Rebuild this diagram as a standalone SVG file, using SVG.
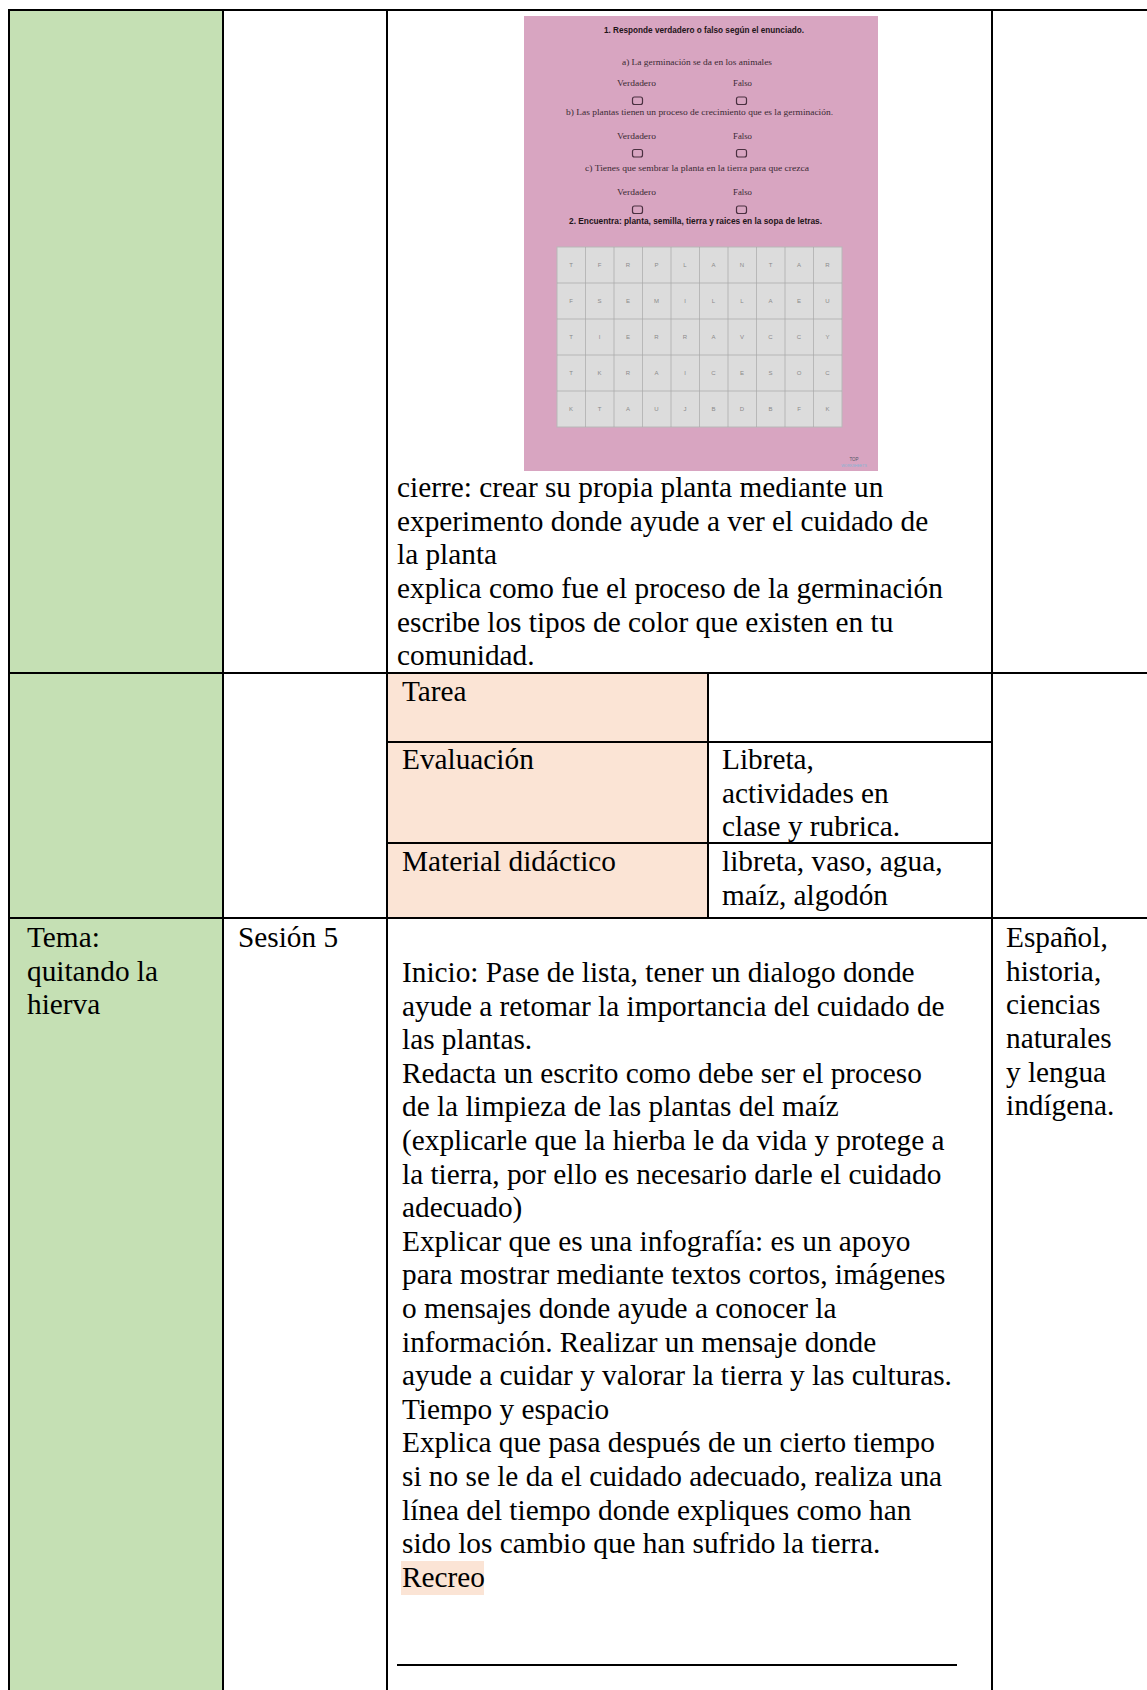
<svg xmlns="http://www.w3.org/2000/svg" width="1147" height="1690" viewBox="0 0 1147 1690">
<style>
.t{font-family:"Liberation Serif","Times New Roman",serif;font-size:29.3px;fill:#000}
.ln{stroke:#000;stroke-width:2;fill:none}
.ws{font-family:"Liberation Serif",serif;font-size:8.5px;fill:#3a2a33}
.wb{font-family:"Liberation Sans","Noto Sans",sans-serif;font-size:8.5px;font-weight:bold;fill:#1e1418}
.cb{fill:none;stroke:#4a3040;stroke-width:1.2}
.gl{font-family:"Liberation Sans",sans-serif;font-size:6px;fill:#8a8a8a;text-anchor:middle}
</style>
<rect x="0" y="0" width="1147" height="1690" fill="#fff"/>

<!-- fills -->
<g id="fills">
<rect x="9" y="10" width="214" height="1680" fill="#C5E0B4"/>
<rect x="387" y="673" width="321" height="245" fill="#FBE4D5"/>
</g>

<!-- worksheet image -->
<g id="worksheet">
<rect x="524" y="16" width="354" height="455" fill="#D8A5C1"/>
<text class="wb" x="704" y="33" text-anchor="middle" textLength="200" lengthAdjust="spacingAndGlyphs">1. Responde verdadero o falso según el enunciado.</text>
<text class="ws" x="697" y="65" text-anchor="middle" textLength="150" lengthAdjust="spacingAndGlyphs">a) La germinación se da en los animales</text>
<text class="ws" x="636.5" y="86" text-anchor="middle" textLength="39" lengthAdjust="spacingAndGlyphs">Verdadero</text>
<text class="ws" x="742.5" y="86" text-anchor="middle" textLength="19" lengthAdjust="spacingAndGlyphs">Falso</text>
<rect class="cb" x="632.5" y="97" width="10" height="7.5" rx="2"/>
<rect class="cb" x="736.5" y="97" width="10" height="7.5" rx="2"/>
<text class="ws" x="699.5" y="115" text-anchor="middle" textLength="267" lengthAdjust="spacingAndGlyphs">b) Las plantas tienen un proceso de crecimiento que es la germinación.</text>
<text class="ws" x="636.5" y="138.5" text-anchor="middle" textLength="39" lengthAdjust="spacingAndGlyphs">Verdadero</text>
<text class="ws" x="742.5" y="138.5" text-anchor="middle" textLength="19" lengthAdjust="spacingAndGlyphs">Falso</text>
<rect class="cb" x="632.5" y="149.5" width="10" height="7.5" rx="2"/>
<rect class="cb" x="736.5" y="149.5" width="10" height="7.5" rx="2"/>
<text class="ws" x="697" y="171" text-anchor="middle" textLength="224" lengthAdjust="spacingAndGlyphs">c) Tienes que sembrar la planta en la tierra para que crezca</text>
<text class="ws" x="636.5" y="195" text-anchor="middle" textLength="39" lengthAdjust="spacingAndGlyphs">Verdadero</text>
<text class="ws" x="742.5" y="195" text-anchor="middle" textLength="19" lengthAdjust="spacingAndGlyphs">Falso</text>
<rect class="cb" x="632.5" y="206" width="10" height="7.5" rx="2"/>
<rect class="cb" x="736.5" y="206" width="10" height="7.5" rx="2"/>
<text class="wb" x="695.5" y="224" text-anchor="middle" textLength="253" lengthAdjust="spacingAndGlyphs">2. Encuentra: planta, semilla, tierra y raices en la sopa de letras.</text>
<rect x="557" y="247" width="285" height="180" fill="#DCDCDC" stroke="#B8B8B8" stroke-width="1"/>
<g stroke="#A8A8A8" stroke-width="0.7">
<line x1="585.5" y1="247" x2="585.5" y2="427"/><line x1="614" y1="247" x2="614" y2="427"/>
<line x1="642.5" y1="247" x2="642.5" y2="427"/><line x1="671" y1="247" x2="671" y2="427"/>
<line x1="699.5" y1="247" x2="699.5" y2="427"/><line x1="728" y1="247" x2="728" y2="427"/>
<line x1="756.5" y1="247" x2="756.5" y2="427"/><line x1="785" y1="247" x2="785" y2="427"/>
<line x1="813.5" y1="247" x2="813.5" y2="427"/>
<line x1="557" y1="283" x2="842" y2="283"/><line x1="557" y1="319" x2="842" y2="319"/>
<line x1="557" y1="355" x2="842" y2="355"/><line x1="557" y1="391" x2="842" y2="391"/>
</g>
<g class="gl">
<text x="571" y="267">T</text><text x="599.5" y="267">F</text><text x="628" y="267">R</text><text x="656.5" y="267">P</text><text x="685" y="267">L</text><text x="713.5" y="267">A</text><text x="742" y="267">N</text><text x="770.5" y="267">T</text><text x="799" y="267">A</text><text x="827.5" y="267">R</text>
<text x="571" y="303">F</text><text x="599.5" y="303">S</text><text x="628" y="303">E</text><text x="656.5" y="303">M</text><text x="685" y="303">I</text><text x="713.5" y="303">L</text><text x="742" y="303">L</text><text x="770.5" y="303">A</text><text x="799" y="303">E</text><text x="827.5" y="303">U</text>
<text x="571" y="339">T</text><text x="599.5" y="339">I</text><text x="628" y="339">E</text><text x="656.5" y="339">R</text><text x="685" y="339">R</text><text x="713.5" y="339">A</text><text x="742" y="339">V</text><text x="770.5" y="339">C</text><text x="799" y="339">C</text><text x="827.5" y="339">Y</text>
<text x="571" y="375">T</text><text x="599.5" y="375">K</text><text x="628" y="375">R</text><text x="656.5" y="375">A</text><text x="685" y="375">I</text><text x="713.5" y="375">C</text><text x="742" y="375">E</text><text x="770.5" y="375">S</text><text x="799" y="375">O</text><text x="827.5" y="375">C</text>
<text x="571" y="411">K</text><text x="599.5" y="411">T</text><text x="628" y="411">A</text><text x="656.5" y="411">U</text><text x="685" y="411">J</text><text x="713.5" y="411">B</text><text x="742" y="411">D</text><text x="770.5" y="411">B</text><text x="799" y="411">F</text><text x="827.5" y="411">K</text>
</g>
<text x="854" y="461" text-anchor="middle" font-family="Liberation Sans,sans-serif" font-size="4.5" fill="#556">TOP</text>
<text x="854" y="467" text-anchor="middle" font-family="Liberation Sans,sans-serif" font-size="3.6" fill="#7FB6D6">WORKSHEETS</text>
</g>

<!-- row 1 text -->
<g id="row1-content">
<text class="t" x="397" y="497">cierre: crear su propia planta mediante un</text>
<text class="t" x="397" y="531">experimento donde ayude a ver el cuidado de</text>
<text class="t" x="397" y="564">la planta</text>
<text class="t" x="397" y="598">explica como fue el proceso de la germinación</text>
<text class="t" x="397" y="632">escribe los tipos de color que existen en tu</text>
<text class="t" x="397" y="665">comunidad.</text>
</g>

<!-- row 2 subtable -->
<g id="cell-tarea"><text class="t" x="402" y="701">Tarea</text></g>
<g id="cell-evaluacion"><text class="t" x="402" y="769">Evaluación</text></g>
<g id="cell-evaluacion-val">
<text class="t" x="722" y="769">Libreta,</text>
<text class="t" x="722" y="803">actividades en</text>
<text class="t" x="722" y="836">clase y rubrica.</text>
</g>
<g id="cell-material"><text class="t" x="402" y="871">Material didáctico</text></g>
<g id="cell-material-val">
<text class="t" x="722" y="871">libreta, vaso, agua,</text>
<text class="t" x="722" y="905">maíz, algodón</text>
</g>

<!-- row 3 -->
<g id="cell-tema">
<text class="t" x="27" y="947">Tema:</text>
<text class="t" x="27" y="981">quitando la</text>
<text class="t" x="27" y="1014">hierva</text>
</g>
<g id="cell-sesion"><text class="t" x="238" y="947">Sesión 5</text></g>
<g id="cell-actividades">
<text class="t" x="402" y="982">Inicio: Pase de lista, tener un dialogo donde</text>
<text class="t" x="402" y="1016">ayude a retomar la importancia del cuidado de</text>
<text class="t" x="402" y="1049">las plantas.</text>
<text class="t" x="402" y="1083">Redacta un escrito como debe ser el proceso</text>
<text class="t" x="402" y="1116">de la limpieza de las plantas del maíz</text>
<text class="t" x="402" y="1150">(explicarle que la hierba le da vida y protege a</text>
<text class="t" x="402" y="1184">la tierra, por ello es necesario darle el cuidado</text>
<text class="t" x="402" y="1217">adecuado)</text>
<text class="t" x="402" y="1251">Explicar que es una infografía: es un apoyo</text>
<text class="t" x="402" y="1284">para mostrar mediante textos cortos, imágenes</text>
<text class="t" x="402" y="1318">o mensajes donde ayude a conocer la</text>
<text class="t" x="402" y="1352">información. Realizar un mensaje donde</text>
<text class="t" x="402" y="1385">ayude a cuidar y valorar la tierra y las culturas.</text>
<text class="t" x="402" y="1419">Tiempo y espacio</text>
<text class="t" x="402" y="1452">Explica que pasa después de un cierto tiempo</text>
<text class="t" x="402" y="1486">si no se le da el cuidado adecuado, realiza una</text>
<text class="t" x="402" y="1520">línea del tiempo donde expliques como han</text>
<text class="t" x="402" y="1553">sido los cambio que han sufrido la tierra.</text>
<rect x="401" y="1561" width="83" height="34" fill="#FBE4D5"/>
<text class="t" x="402" y="1587">Recreo</text>
<line class="ln" x1="397" y1="1665" x2="957" y2="1665"/>
</g>
<g id="cell-materias">
<text class="t" x="1006" y="947">Español,</text>
<text class="t" x="1006" y="981">historia,</text>
<text class="t" x="1006" y="1014">ciencias</text>
<text class="t" x="1006" y="1048">naturales</text>
<text class="t" x="1006" y="1082">y lengua</text>
<text class="t" x="1006" y="1115">indígena.</text>
</g>

<!-- table lines -->
<g id="grid-lines" class="ln">
<line x1="8" y1="10" x2="1147" y2="10"/>
<line x1="9" y1="9" x2="9" y2="1690"/>
<line x1="223" y1="9" x2="223" y2="1690"/>
<line x1="387" y1="9" x2="387" y2="1690"/>
<line x1="992" y1="9" x2="992" y2="1690"/>
<line x1="708" y1="673" x2="708" y2="918"/>
<line x1="8" y1="673" x2="1147" y2="673"/>
<line x1="387" y1="742" x2="992" y2="742"/>
<line x1="387" y1="843" x2="992" y2="843"/>
<line x1="8" y1="918" x2="1147" y2="918"/>
</g>
</svg>
